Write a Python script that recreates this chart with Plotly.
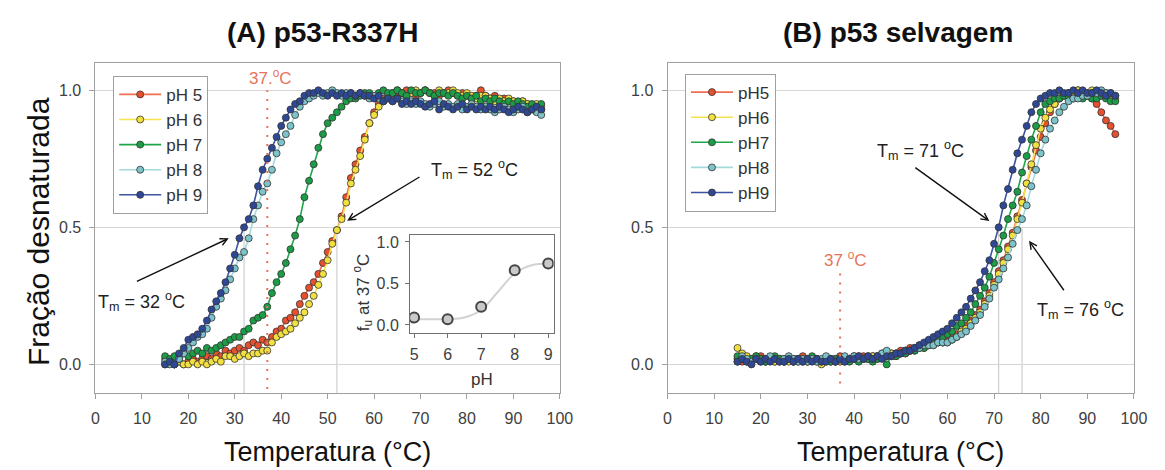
import plotly.graph_objects as go

# temperatures (°C) shared by every melting curve
temps = [15, 16, 17, 18, 19, 20, 21, 22, 23, 24,
         25, 26, 27, 28, 29, 30, 31, 32, 33, 34,
         35, 36, 37, 38, 39, 40, 41, 42, 43, 44,
         45, 46, 47, 48, 49, 50, 51, 52, 53, 54,
         55, 56, 57, 58, 59, 60, 61, 62, 63, 64,
         65, 66, 67, 68, 69, 70, 71, 72, 73, 74,
         75, 76, 77, 78, 79, 80, 81, 82, 83, 84,
         85, 86, 87, 88, 89, 90, 91, 92, 93, 94,
         95, 96]

# (A) p53-R337H, fraction unfolded
a_ph5 = [0.00, 0.01, 0.00, 0.01, 0.00, 0.01, 0.02, 0.01, 0.02, 0.03,
         0.02, 0.04, 0.03, 0.05, 0.04, 0.05, 0.06, 0.05, 0.07, 0.08,
         0.07, 0.09, 0.08, 0.10, 0.12, 0.13, 0.16, 0.17, 0.19, 0.22,
         0.25, 0.28, 0.30, 0.33, 0.37, 0.41, 0.45, 0.49, 0.54, 0.61,
         0.68, 0.73, 0.78, 0.83, 0.88, 0.92, 0.95, 0.97, 0.98, 0.99,
         0.98, 0.99, 1.00, 0.99, 0.98, 0.99, 1.00, 0.99, 0.99, 0.98,
         0.99, 1.00, 0.99, 0.98, 0.99, 0.98, 0.97, 0.98, 1.00, 0.98,
         0.97, 0.98, 0.96, 0.97, 0.96, 0.96, 0.95, 0.96, 0.95, 0.94,
         0.94, 0.93]
a_ph6 = [0.02, 0.01, 0.00, 0.01, 0.00, 0.00, 0.01, 0.00, 0.01, 0.00,
         0.01, 0.02, 0.01, 0.03, 0.03, 0.02, 0.03, 0.04, 0.03, 0.04,
         0.04, 0.05, 0.05, 0.08, 0.10, 0.11, 0.12, 0.13, 0.15, 0.17,
         0.19, 0.22, 0.25, 0.29, 0.33, 0.38, 0.44, 0.49, 0.53, 0.59,
         0.66, 0.71, 0.76, 0.82, 0.88, 0.91, 0.94, 0.96, 0.98, 0.99,
         1.00, 0.99, 0.98, 0.99, 1.00, 0.99, 1.00, 0.99, 0.98, 1.00,
         0.99, 0.99, 1.00, 0.99, 0.98, 0.99, 0.98, 0.97, 0.98, 0.98,
         0.97, 0.96, 0.97, 0.96, 0.97, 0.96, 0.95, 0.96, 0.95, 0.94,
         0.95, 0.94]
a_ph7 = [0.03, 0.02, 0.03, 0.02, 0.04, 0.03, 0.04, 0.05, 0.04, 0.06,
         0.05, 0.06, 0.07, 0.08, 0.09, 0.10, 0.10, 0.12, 0.13, 0.16,
         0.17, 0.18, 0.21, 0.26, 0.30, 0.33, 0.37, 0.42, 0.47, 0.53,
         0.61, 0.67, 0.73, 0.79, 0.84, 0.88, 0.90, 0.92, 0.94, 0.96,
         0.97, 0.97, 0.98, 0.99, 0.99, 0.98, 0.99, 1.00, 0.99, 0.99,
         1.00, 0.99, 0.98, 1.00, 0.99, 0.99, 1.00, 0.99, 0.98, 0.99,
         0.99, 0.98, 0.99, 0.98, 0.97, 0.98, 0.97, 0.98, 0.96, 0.97,
         0.96, 0.97, 0.96, 0.95, 0.96, 0.95, 0.96, 0.95, 0.94, 0.95,
         0.94, 0.95]
a_ph8 = [0.01, 0.00, 0.00, 0.02, 0.04, 0.06, 0.08, 0.10, 0.11, 0.13,
         0.17, 0.21, 0.24, 0.27, 0.31, 0.35, 0.39, 0.41, 0.46, 0.53,
         0.58, 0.63, 0.66, 0.71, 0.77, 0.81, 0.84, 0.87, 0.91, 0.94,
         0.96, 0.97, 0.98, 0.99, 0.98, 0.99, 1.00, 0.99, 0.98, 0.99,
         0.99, 0.98, 0.99, 0.98, 0.97, 0.98, 0.97, 0.96, 0.97, 0.96,
         0.97, 0.96, 0.95, 0.96, 0.95, 0.96, 0.95, 0.94, 0.95, 0.96,
         0.94, 0.95, 0.94, 0.95, 0.93, 0.94, 0.95, 0.94, 0.93, 0.94,
         0.93, 0.92, 0.93, 0.94, 0.93, 0.92, 0.93, 0.94, 0.92, 0.93,
         0.92, 0.91]
a_ph9 = [0.00, 0.01, 0.00, 0.04, 0.06, 0.09, 0.10, 0.11, 0.13, 0.16,
         0.20, 0.23, 0.26, 0.30, 0.35, 0.40, 0.46, 0.50, 0.53, 0.58,
         0.65, 0.71, 0.75, 0.79, 0.83, 0.87, 0.90, 0.93, 0.95, 0.96,
         0.98, 0.99, 0.99, 1.00, 0.99, 0.98, 0.99, 0.98, 0.99, 0.98,
         0.99, 0.98, 0.99, 0.98, 0.98, 0.97, 0.98, 0.96, 0.97, 0.96,
         0.97, 0.95, 0.96, 0.95, 0.96, 0.95, 0.94, 0.95, 0.96, 0.93,
         0.95, 0.94, 0.93, 0.94, 0.95, 0.93, 0.94, 0.93, 0.94, 0.93,
         0.94, 0.93, 0.94, 0.93, 0.92, 0.93, 0.94, 0.93, 0.92, 0.93,
         0.94, 0.93]

# (B) p53 selvagem, fraction unfolded
b_ph5 = [0.02, 0.01, 0.02, 0.01, 0.02, 0.03, 0.01, 0.02, 0.01, 0.02,
         0.01, 0.02, 0.01, 0.02, 0.03, 0.01, 0.02, 0.02, 0.01, 0.02,
         0.01, 0.02, 0.03, 0.02, 0.02, 0.03, 0.02, 0.03, 0.02, 0.03,
         0.03, 0.04, 0.03, 0.04, 0.04, 0.05, 0.05, 0.06, 0.06, 0.07,
         0.07, 0.07, 0.08, 0.08, 0.08, 0.09, 0.10, 0.11, 0.12, 0.14,
         0.16, 0.18, 0.20, 0.23, 0.26, 0.30, 0.34, 0.38, 0.43, 0.48,
         0.54, 0.60, 0.66, 0.72, 0.78, 0.83, 0.88, 0.92, 0.95, 0.97,
         0.98, 0.99, 0.99, 1.00, 0.99, 0.98, 0.97, 0.95, 0.92, 0.89,
         0.87, 0.84]
b_ph6 = [0.06, 0.04, 0.03, 0.02, 0.03, 0.02, 0.01, 0.02, 0.01, 0.02,
         0.02, 0.01, 0.02, 0.01, 0.02, 0.01, 0.02, 0.01, 0.00, 0.01,
         0.02, 0.01, 0.02, 0.01, 0.02, 0.02, 0.03, 0.02, 0.02, 0.03,
         0.02, 0.03, 0.03, 0.04, 0.03, 0.04, 0.04, 0.05, 0.05, 0.06,
         0.06, 0.07, 0.07, 0.08, 0.08, 0.08, 0.09, 0.10, 0.12, 0.13,
         0.15, 0.17, 0.19, 0.22, 0.25, 0.29, 0.33, 0.37, 0.42, 0.47,
         0.53, 0.59, 0.66, 0.73, 0.80, 0.86, 0.90, 0.93, 0.95, 0.97,
         0.98, 0.99, 0.99, 1.00, 0.99, 0.99, 1.00, 0.99, 0.98, 0.99,
         0.98, 0.97]
b_ph7 = [0.03, 0.02, 0.01, 0.02, 0.03, 0.02, 0.01, 0.02, 0.03, 0.02,
         0.01, 0.02, 0.01, 0.02, 0.01, 0.02, 0.03, 0.02, 0.01, 0.02,
         0.01, 0.02, 0.01, 0.02, 0.01, 0.02, 0.01, 0.02, 0.02, 0.01,
         0.02, 0.03, 0.00, 0.03, 0.03, 0.04, 0.04, 0.05, 0.05, 0.06,
         0.06, 0.07, 0.08, 0.09, 0.10, 0.11, 0.12, 0.14, 0.15, 0.17,
         0.19, 0.22, 0.25, 0.28, 0.32, 0.37, 0.42, 0.47, 0.53, 0.58,
         0.63, 0.70, 0.76, 0.82, 0.87, 0.92, 0.95, 0.96, 0.97, 0.97,
         0.98, 0.98, 0.97, 0.98, 0.97, 0.98, 0.97, 0.97, 0.98, 0.97,
         0.96, 0.96]
b_ph8 = [0.01, 0.03, 0.02, 0.01, 0.02, 0.01, 0.02, 0.03, 0.02, 0.01,
         0.02, 0.03, 0.02, 0.01, 0.02, 0.01, 0.02, 0.01, 0.02, 0.03,
         0.02, 0.01, 0.02, 0.03, 0.02, 0.03, 0.02, 0.02, 0.03, 0.02,
         0.03, 0.04, 0.05, 0.03, 0.04, 0.04, 0.05, 0.05, 0.06, 0.06,
         0.07, 0.07, 0.07, 0.08, 0.08, 0.08, 0.09, 0.10, 0.11, 0.12,
         0.14, 0.16, 0.18, 0.21, 0.24, 0.28, 0.31, 0.35, 0.39, 0.44,
         0.49, 0.53, 0.58, 0.65, 0.71, 0.77, 0.82, 0.86, 0.89, 0.92,
         0.94, 0.96, 0.97, 0.97, 0.98, 0.98, 0.99, 0.99, 1.00, 0.99,
         0.99, 0.98]
b_ph9 = [0.01, 0.02, 0.01, 0.00, 0.02, 0.01, 0.02, 0.01, 0.02, 0.01,
         0.01, 0.02, 0.01, 0.02, 0.01, 0.02, 0.01, 0.02, 0.01, 0.01,
         0.02, 0.01, 0.02, 0.01, 0.02, 0.02, 0.03, 0.02, 0.03, 0.02,
         0.03, 0.02, 0.03, 0.03, 0.04, 0.04, 0.05, 0.05, 0.06, 0.07,
         0.08, 0.09, 0.10, 0.11, 0.12, 0.13, 0.15, 0.17, 0.19, 0.21,
         0.24, 0.27, 0.30, 0.34, 0.38, 0.44, 0.50, 0.58, 0.64, 0.71,
         0.77, 0.82, 0.87, 0.92, 0.95, 0.97, 0.98, 0.99, 0.99, 1.00,
         0.99, 0.99, 1.00, 0.99, 1.00, 0.99, 0.99, 1.00, 0.99, 0.98,
         0.99, 0.98]

# inset: fraction unfolded at 37 °C vs pH
inset_ph = [5, 6, 7, 8, 9]
inset_fu = [0.09, 0.07, 0.22, 0.66, 0.74]
fit_ph = [5, 5.5, 6, 6.5, 7, 7.5, 8, 8.5, 9]
fit_fu = [0.07, 0.07, 0.07, 0.09, 0.18, 0.40, 0.62, 0.72, 0.74]

names_a = ["pH 5", "pH 6", "pH 7", "pH 8", "pH 9"]
names_b = ["pH5", "pH6", "pH7", "pH8", "pH9"]
line_cols = ["#ef6e4e", "#f6e24a", "#1fa64a", "#a3dade", "#3d52a2"]
fill_cols = ["#e5502f", "#f2e040", "#1c9c46", "#7cc3ca", "#2e4895"]

FONT = "Liberation Sans, Arial, sans-serif"
# page body has an 8px margin, so the figure sits at (8, 8) in the 1165x470 window
OFF = 8
W, H = 1165 - OFF, 470 - OFF

fig = go.Figure()

for ys, nm, lc, fc in zip([a_ph5, a_ph6, a_ph7, a_ph8, a_ph9], names_a, line_cols, fill_cols):
    fig.add_trace(go.Scatter(
        x=temps, y=ys, name=nm, mode="lines+markers", xaxis="x", yaxis="y",
        line=dict(color=lc, width=1.6),
        marker=dict(size=7, color=fc, line=dict(color="#333333", width=0.8)),
        legend="legend"))

for ys, nm, lc, fc in zip([b_ph5, b_ph6, b_ph7, b_ph8, b_ph9], names_b, line_cols, fill_cols):
    fig.add_trace(go.Scatter(
        x=temps, y=ys, name=nm, mode="lines+markers", xaxis="x2", yaxis="y2",
        line=dict(color=lc, width=1.6),
        marker=dict(size=7, color=fc, line=dict(color="#333333", width=0.8)),
        legend="legend2"))

# inset
fig.add_trace(go.Scatter(x=fit_ph, y=fit_fu, mode="lines", line_shape="spline",
                         line=dict(color="#d2d2d2", width=2), xaxis="x3", yaxis="y3",
                         showlegend=False, hoverinfo="skip"))
fig.add_trace(go.Scatter(x=inset_ph, y=inset_fu, mode="markers", xaxis="x3", yaxis="y3",
                         marker=dict(size=10, color="#c9c9c9", line=dict(color="#444444", width=2)),
                         showlegend=False))

def px_x(p):
    return (p - OFF) / W

def px_y(p):
    return 1 - (p - OFF) / H

ax_common = dict(showline=True, linecolor="#a0a0a0", linewidth=1, mirror=True,
                 ticks="outside", ticklen=5, tickcolor="#a0a0a0", zeroline=False,
                 tickfont=dict(family=FONT, size=16, color="#404040"))

xa = dict(ax_common, range=[0, 100], tickvals=[0, 10, 20, 30, 40, 50, 60, 70, 80, 90, 100],
          showgrid=False, ticklabelstandoff=6)
ya = dict(ax_common, range=[-0.105, 1.1], tickvals=[0, 0.5, 1.0], ticktext=["0.0", "0.5", "1.0"],
          showgrid=True, gridcolor="#d6d6d6", gridwidth=1, ticklabelstandoff=5)

legend_style = dict(xanchor="left", yanchor="top", bordercolor="#a0a0a0", borderwidth=1,
                    bgcolor="white", font=dict(family=FONT, size=17, color="#333333"),
                    tracegroupgap=0, itemwidth=42)

fig.update_layout(
    width=W, height=H,
    margin=dict(l=0, r=0, t=0, b=0),
    paper_bgcolor="white", plot_bgcolor="white",
    font=dict(family=FONT, color="#222222"),
    xaxis=dict(xa, domain=[px_x(92.7), px_x(564)], anchor="y"),
    yaxis=dict(ya, domain=[px_y(393), px_y(62)], anchor="x"),
    xaxis2=dict(xa, domain=[px_x(673.3), px_x(1146.7)], anchor="y2"),
    yaxis2=dict(ya, domain=[px_y(393), px_y(62)], anchor="x2"),
    xaxis3=dict(ax_common, domain=[px_x(412), px_x(557.7)], anchor="y3", range=[4.88, 9.16],
                tickvals=[5, 6, 7, 8, 9], showgrid=False, ticklen=4, linecolor="#707070",
                tickcolor="#707070", ticklabelstandoff=3),
    yaxis3=dict(ax_common, domain=[px_y(333), px_y(234)], anchor="x3", range=[-0.1, 1.09],
                tickvals=[0, 0.5, 1.0], ticktext=["0.0", "0.5", "1.0"], showgrid=False,
                ticklen=4, linecolor="#707070", tickcolor="#707070", ticklabelstandoff=3),
    legend=dict(legend_style, x=px_x(110.7), y=px_y(75)),
    legend2=dict(legend_style, x=px_x(691), y=px_y(72.7)),
    showlegend=True,
)

red = "#e8735a"
grey_line = dict(color="#c4c4c4", width=1)
shapes = [
    dict(type="line", xref="x", yref="y", x0=37, x1=37, y0=-0.09, y1=1.0,
         line=dict(color=red, width=2, dash="2px,7px")),
    dict(type="line", xref="x", yref="y", x0=32, x1=32, y0=-0.105, y1=0.5, line=grey_line, layer="below"),
    dict(type="line", xref="x", yref="y", x0=52, x1=52, y0=-0.105, y1=0.5, line=grey_line, layer="below"),
    dict(type="line", xref="x2", yref="y2", x0=37, x1=37, y0=-0.07, y1=0.35,
         line=dict(color=red, width=2, dash="2px,7px")),
    dict(type="line", xref="x2", yref="y2", x0=71, x1=71, y0=-0.105, y1=0.5, line=grey_line, layer="below"),
    dict(type="line", xref="x2", yref="y2", x0=76, x1=76, y0=-0.105, y1=0.5, line=grey_line, layer="below"),
]
fig.update_layout(shapes=shapes)

ann_font = dict(family=FONT, size=18, color="#222222")
C = dict(xanchor="center", yanchor="middle", showarrow=False)
annotations = [
    # panel titles
    dict(C, text="<b>(A) p53-R337H</b>", x=px_x(323.5), y=px_y(31.5), xref="paper", yref="paper",
         font=dict(family=FONT, size=28, color="#111111")),
    dict(C, text="<b>(B) p53 selvagem</b>", x=px_x(907.5), y=px_y(31.5), xref="paper", yref="paper",
         font=dict(family=FONT, size=28, color="#111111")),
    # axis titles
    dict(C, text="Temperatura (°C)", x=px_x(328), y=px_y(452), xref="paper", yref="paper",
         font=dict(family=FONT, size=27, color="#111111")),
    dict(C, text="Temperatura (°C)", x=px_x(910), y=px_y(452), xref="paper", yref="paper",
         font=dict(family=FONT, size=27, color="#111111")),
    dict(C, text="Fração desnaturada", x=px_x(35), y=px_y(231), xref="paper", yref="paper",
         textangle=-90, font=dict(family=FONT, size=30, color="#111111")),
    # panel A labels
    dict(C, text="37.<sup>o</sup>C", x=37.7, y=1.047, xref="x", yref="y",
         font=dict(family=FONT, size=17, color=red)),
    dict(C, text="T<sub>m</sub> = 52 <sup>o</sup>C", x=81.6, y=0.71, xref="x", yref="y", font=ann_font),
    dict(text="", x=54.2, y=0.524, ax=70.1, ay=0.687, xref="x", yref="y", axref="x", ayref="y",
         showarrow=True, arrowhead=5, arrowsize=1, arrowwidth=1.4, arrowcolor="#111111"),
    dict(C, text="T<sub>m</sub> = 32 <sup>o</sup>C", x=10, y=0.23, xref="x", yref="y", font=ann_font),
    dict(text="", x=28.7, y=0.46, ax=8.6, ay=0.30, xref="x", yref="y", axref="x", ayref="y",
         showarrow=True, arrowhead=5, arrowsize=1, arrowwidth=1.4, arrowcolor="#111111"),
    # inset titles
    dict(C, text="f<sub>u</sub> at 37 <sup>o</sup>C", x=px_x(364), y=px_y(292), xref="paper", yref="paper",
         textangle=-90, font=dict(family=FONT, size=17, color="#333333")),
    dict(C, text="pH", x=px_x(485), y=px_y(379), xref="paper", yref="paper",
         font=dict(family=FONT, size=17, color="#333333")),
    # panel B labels
    dict(C, text="37 <sup>o</sup>C", x=38.2, y=0.385, xref="x2", yref="y2",
         font=dict(family=FONT, size=17, color=red)),
    dict(C, text="T<sub>m</sub> = 71 <sup>o</sup>C", x=54.2, y=0.782, xref="x2", yref="y2", font=ann_font),
    dict(text="", x=69, y=0.523, ax=52.8, ay=0.722, xref="x2", yref="y2", axref="x2", ayref="y2",
         showarrow=True, arrowhead=5, arrowsize=1, arrowwidth=1.4, arrowcolor="#111111"),
    dict(C, text="T<sub>m</sub> = 76 <sup>o</sup>C", x=88.6, y=0.202, xref="x2", yref="y2", font=ann_font),
    dict(text="", x=77.5, y=0.451, ax=85.2, ay=0.265, xref="x2", yref="y2", axref="x2", ayref="y2",
         showarrow=True, arrowhead=5, arrowsize=1, arrowwidth=1.4, arrowcolor="#111111"),
]
fig.update_layout(annotations=annotations)

fig.write_html("out.html")
